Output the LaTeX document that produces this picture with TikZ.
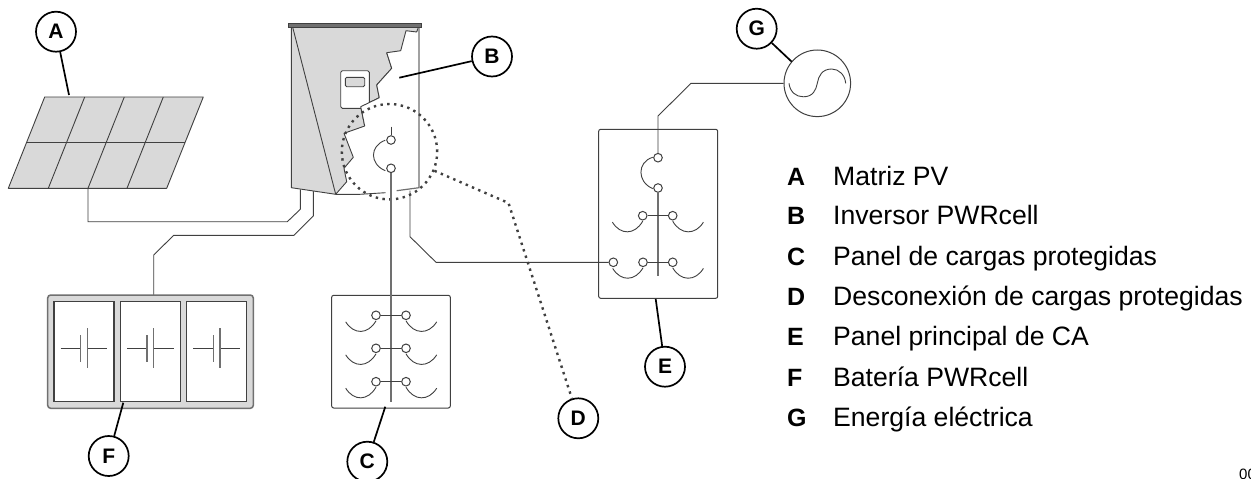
\documentclass[tikz,border=0pt]{standalone}
\usepackage{fontspec}
\setmainfont{Liberation Sans}
\definecolor{panelgray}{HTML}{D9D9D9}
\definecolor{wiregray}{HTML}{404040}
\definecolor{midgray}{HTML}{707070}
\tikzset{
  thinline/.style={draw=wiregray,line width=0.9pt},
  frameline/.style={draw=wiregray,line width=1pt,rounded corners=2pt},
  busline/.style={draw=midgray,line width=1.2pt},
  leader/.style={draw=black,line width=1.7pt},
  dotline/.style={draw=wiregray,line width=2.4pt,dash pattern=on 2.4pt off 4.4pt},
  tag/.style={circle,draw=black,line width=1.7pt,fill=white,minimum size=40pt,inner sep=0pt,font=\fontsize{21}{21}\selectfont\bfseries},
  term/.style={circle,draw=wiregray,line width=1pt,fill=white,minimum size=8.6pt,inner sep=0pt},
  key/.style={anchor=base west,inner sep=0pt,font=\fontsize{25}{25}\selectfont\bfseries},
  keytext/.style={anchor=base west,inner sep=0pt,font=\fontsize{26.6}{26.6}\selectfont},
}
\begin{document}
\begin{tikzpicture}[x=1pt,y=-1pt]
\useasboundingbox (0,0) rectangle (1251,479);
\clip (0,0) rectangle (1251,479);
\fill[white] (0,0) rectangle (1251,479);

% wires behind equipment
\coordinate (pvout) at (88,188.3);
\coordinate (invA) at (300.3,189.3);
\draw[thinline] (pvout) -- (88,221.7) -- (287.3,221.7) -- (300.3,209.3) -- (invA);
\coordinate (batin) at (153.7,295);
\coordinate (invB) at (313.3,190.7);
\draw[thinline] (batin) -- (153.7,255) -- (173.7,235.3) -- (294,235.3) -- (313.3,216) -- (invB);

% PV array
\draw[thinline,fill=panelgray,line join=round] (44.7,97) -- (203.3,97) -- (166.7,188.3) -- (8.3,188.3) -- cycle;
\draw[thinline] (26.7,142.7) -- (185,142.7);
\foreach \t/\b in {84.7/48.3,124.3/88,163.3/127} \draw[thinline] (\t,97) -- (\b,188.3);

% inverter
\fill[white] (291.3,27) -- (419,27) -- (419,187.7) -- (335.7,194.3) -- (291.3,187.7) -- cycle;
\draw[thinline,fill=panelgray,line join=round] (291.3,27.3) -- (418.3,27.3) -- (416.7,32) -- (406,30.7) -- (400.7,50.7) -- (386.7,52.7) -- (391.7,68.3) -- (376.7,85) -- (379.3,97.7) -- (360.7,106.7) -- (364.7,126) -- (344,133.3) -- (353.3,157.3) -- (344,168.3) -- (346.7,181.7) -- (335.7,194.3) -- (291.3,187.7) -- cycle;
\draw[thinline,fill=white,rounded corners=1.5pt] (340.7,70.7) rectangle (369.3,108.3);
\draw[thinline,fill=panelgray,rounded corners=1.5pt] (345.3,77.3) rectangle (364.7,86.7);
\fill[white] (386.7,52.7) -- (391.7,68.3) -- (376.7,85) -- (379.3,97.7) -- (360.7,106.7) -- (364.7,126) -- (375,126) -- (400,60) -- cycle;
\draw[thinline,line join=round] (386.7,52.7) -- (391.7,68.3) -- (376.7,85) -- (379.3,97.7) -- (360.7,106.7) -- (364.7,126);
\draw[thinline] (292.7,27.3) -- (335.7,194.3);
\draw[draw=midgray,line width=1.2pt] (419,27.3) -- (419,187.7) -- (396.7,190.7);
\draw[thinline] (335.7,194.3) -- (360,194.3) -- (385.7,192.7);
\draw[thinline,fill=midgray] (288.3,23.5) rectangle (421.7,27.3);

% protected-load disconnect
\node[term] (d1) at (391,140) {};
\node[term] (d2) at (391,168.3) {};
\coordinate (dtop) at (391,126.7);
\draw[thinline] (dtop) -- (d1);
\draw[thinline] (385.3,140.2) .. controls (369.5,146) and (369.5,164) .. (385.3,170.7);
\node[circle,dotline,fill=none,minimum size=95.4pt,inner sep=0pt] (ring) at (389.5,151.7) {};

% protected load panel
\draw[frameline] (331.7,295.3) rectangle (450.3,408);
\coordinate (cbus) at (391,401.7);
\draw[busline] (d2) -- (cbus);
\foreach \i/\y in {1/315.3,2/348.3,3/381.7} {
  \node[term] (cl\i) at (376,\y) {};
  \node[term] (cr\i) at (406,\y) {};
  \draw[thinline] (cl\i) -- (cr\i);
  \draw[thinline] (345.7,\y+6.5) .. controls (353.7,\y+19.5) and (368,\y+19.5) .. (376,\y+5.5);
  \draw[thinline] (406,\y+5.5) .. controls (414,\y+19.5) and (428.7,\y+19.5) .. (436.7,\y+6.5);
}

% battery
\draw[draw=midgray,line width=1.5pt,fill=panelgray,rounded corners=3pt] (47.7,295) rectangle (253.3,408.3);
\foreach \k/\dx in {1/0,2/66.3,3/132.7} {
  \draw[draw=wiregray,line width=1.1pt,fill=white] (54+\dx,301.7) rectangle (114+\dx,401.7);
  \draw[thinline] (60.7+\dx,348.3) -- (80.7+\dx,348.3);
  \draw[thinline] (87.3+\dx,348.3) -- (107.3+\dx,348.3);
  \draw[busline] (80.7+\dx,335) -- (80.7+\dx,361.7);
  \draw[busline] (87.3+\dx,328.3) -- (87.3+\dx,368.3);
}

% main AC panel
\draw[frameline] (598.7,129.3) rectangle (717.7,298.3);
\node[circle,draw=wiregray,line width=1pt,fill=white,minimum size=66.6pt,inner sep=0pt] (grid) at (817.3,83.3) {};
\node[term] (e1) at (658,157.7) {};
\node[term] (e2) at (658,188) {};
\coordinate (ebus) at (658,276);
\draw[thinline] (grid.west) -- (691,83.3) -- (658,116) -- (e1);
\draw[thinline] (652.7,157.3) .. controls (637,162) and (637,182) .. (652.7,188.6);
\draw[busline] (e2) -- (ebus);
\node[term] (t1) at (642.7,215.7) {};
\node[term] (t2) at (672.7,215.7) {};
\draw[thinline] (t1) -- (t2);
\draw[thinline] (612.4,222.2) .. controls (620.4,235.2) and (634.7,235.2) .. (642.7,221.2);
\draw[thinline] (672.7,221.2) .. controls (680.7,235.2) and (695.4,235.2) .. (703.4,222.2);
\node[term] (m1) at (613.3,262.3) {};
\node[term] (m2) at (643,262.3) {};
\node[term] (m3) at (672.7,262.3) {};
\draw[thinline] (m2) -- (m3);
\draw[thinline] (612.7,268.4) .. controls (620.7,281.6) and (635,281.6) .. (643,267.8);
\draw[thinline] (672.7,267.8) .. controls (680.7,281.6) and (695.4,281.6) .. (703.4,268.4);
\coordinate (invC) at (410,190.7);
\draw[thinline] (invC) -- (410,236.7) -- (436,262.3) -- (m1);

% grid sine
\draw[thinline] (789,83.3) .. controls (790,92) and (796,96.8) .. (803.3,96.8) .. controls (813,96.8) and (816,90) .. (817.3,83.3) .. controls (818.5,76) and (822,69) .. (831.7,69) .. controls (839,69) and (845,75) .. (845.7,83.3);

% callouts
\node[tag] (A) at (56,31.7) {A};
\node[tag] (B) at (492,56.5) {B};
\node[tag] (C) at (367.3,461.7) {C};
\node[tag] (D) at (578.3,418.3) {D};
\node[tag] (E) at (665,366.7) {E};
\node[tag] (F) at (108.7,456) {F};
\node[tag] (G) at (756.7,28.7) {G};
\coordinate (pA) at (69,95);
\coordinate (pB) at (399.3,77.7);
\coordinate (pC) at (385.3,406.7);
\coordinate (pE) at (655.7,299);
\coordinate (pF) at (123.3,402.7);
\coordinate (pG) at (791.7,61.7);
\draw[leader] (A) -- (pA);
\draw[leader] (B) -- (pB);
\draw[leader] (C) -- (pC);
\draw[leader] (E) -- (pE);
\draw[leader] (F) -- (pF);
\draw[leader] (G) -- (pG);
\coordinate (dbend) at (508.5,203);
\draw[dotline] (ring.-23) -- (dbend) -- (D);

% legend
\foreach \l/\t/\y in {A/Matriz PV/185,B/Inversor PWRcell/224,C/Panel de cargas protegidas/265,D/Desconexión de cargas protegidas/305,E/Panel principal de CA/345,F/Batería PWRcell/386,G/Energía eléctrica/426} {
  \node[key] (k\l) at (787,\y) {\l};
  \node[keytext] (v\l) at (833,\y) {\t};
}
\node[anchor=base west,inner sep=0pt,font=\fontsize{15}{15}\selectfont] (fig) at (1239,479.5) {00};
\end{tikzpicture}
\end{document}
